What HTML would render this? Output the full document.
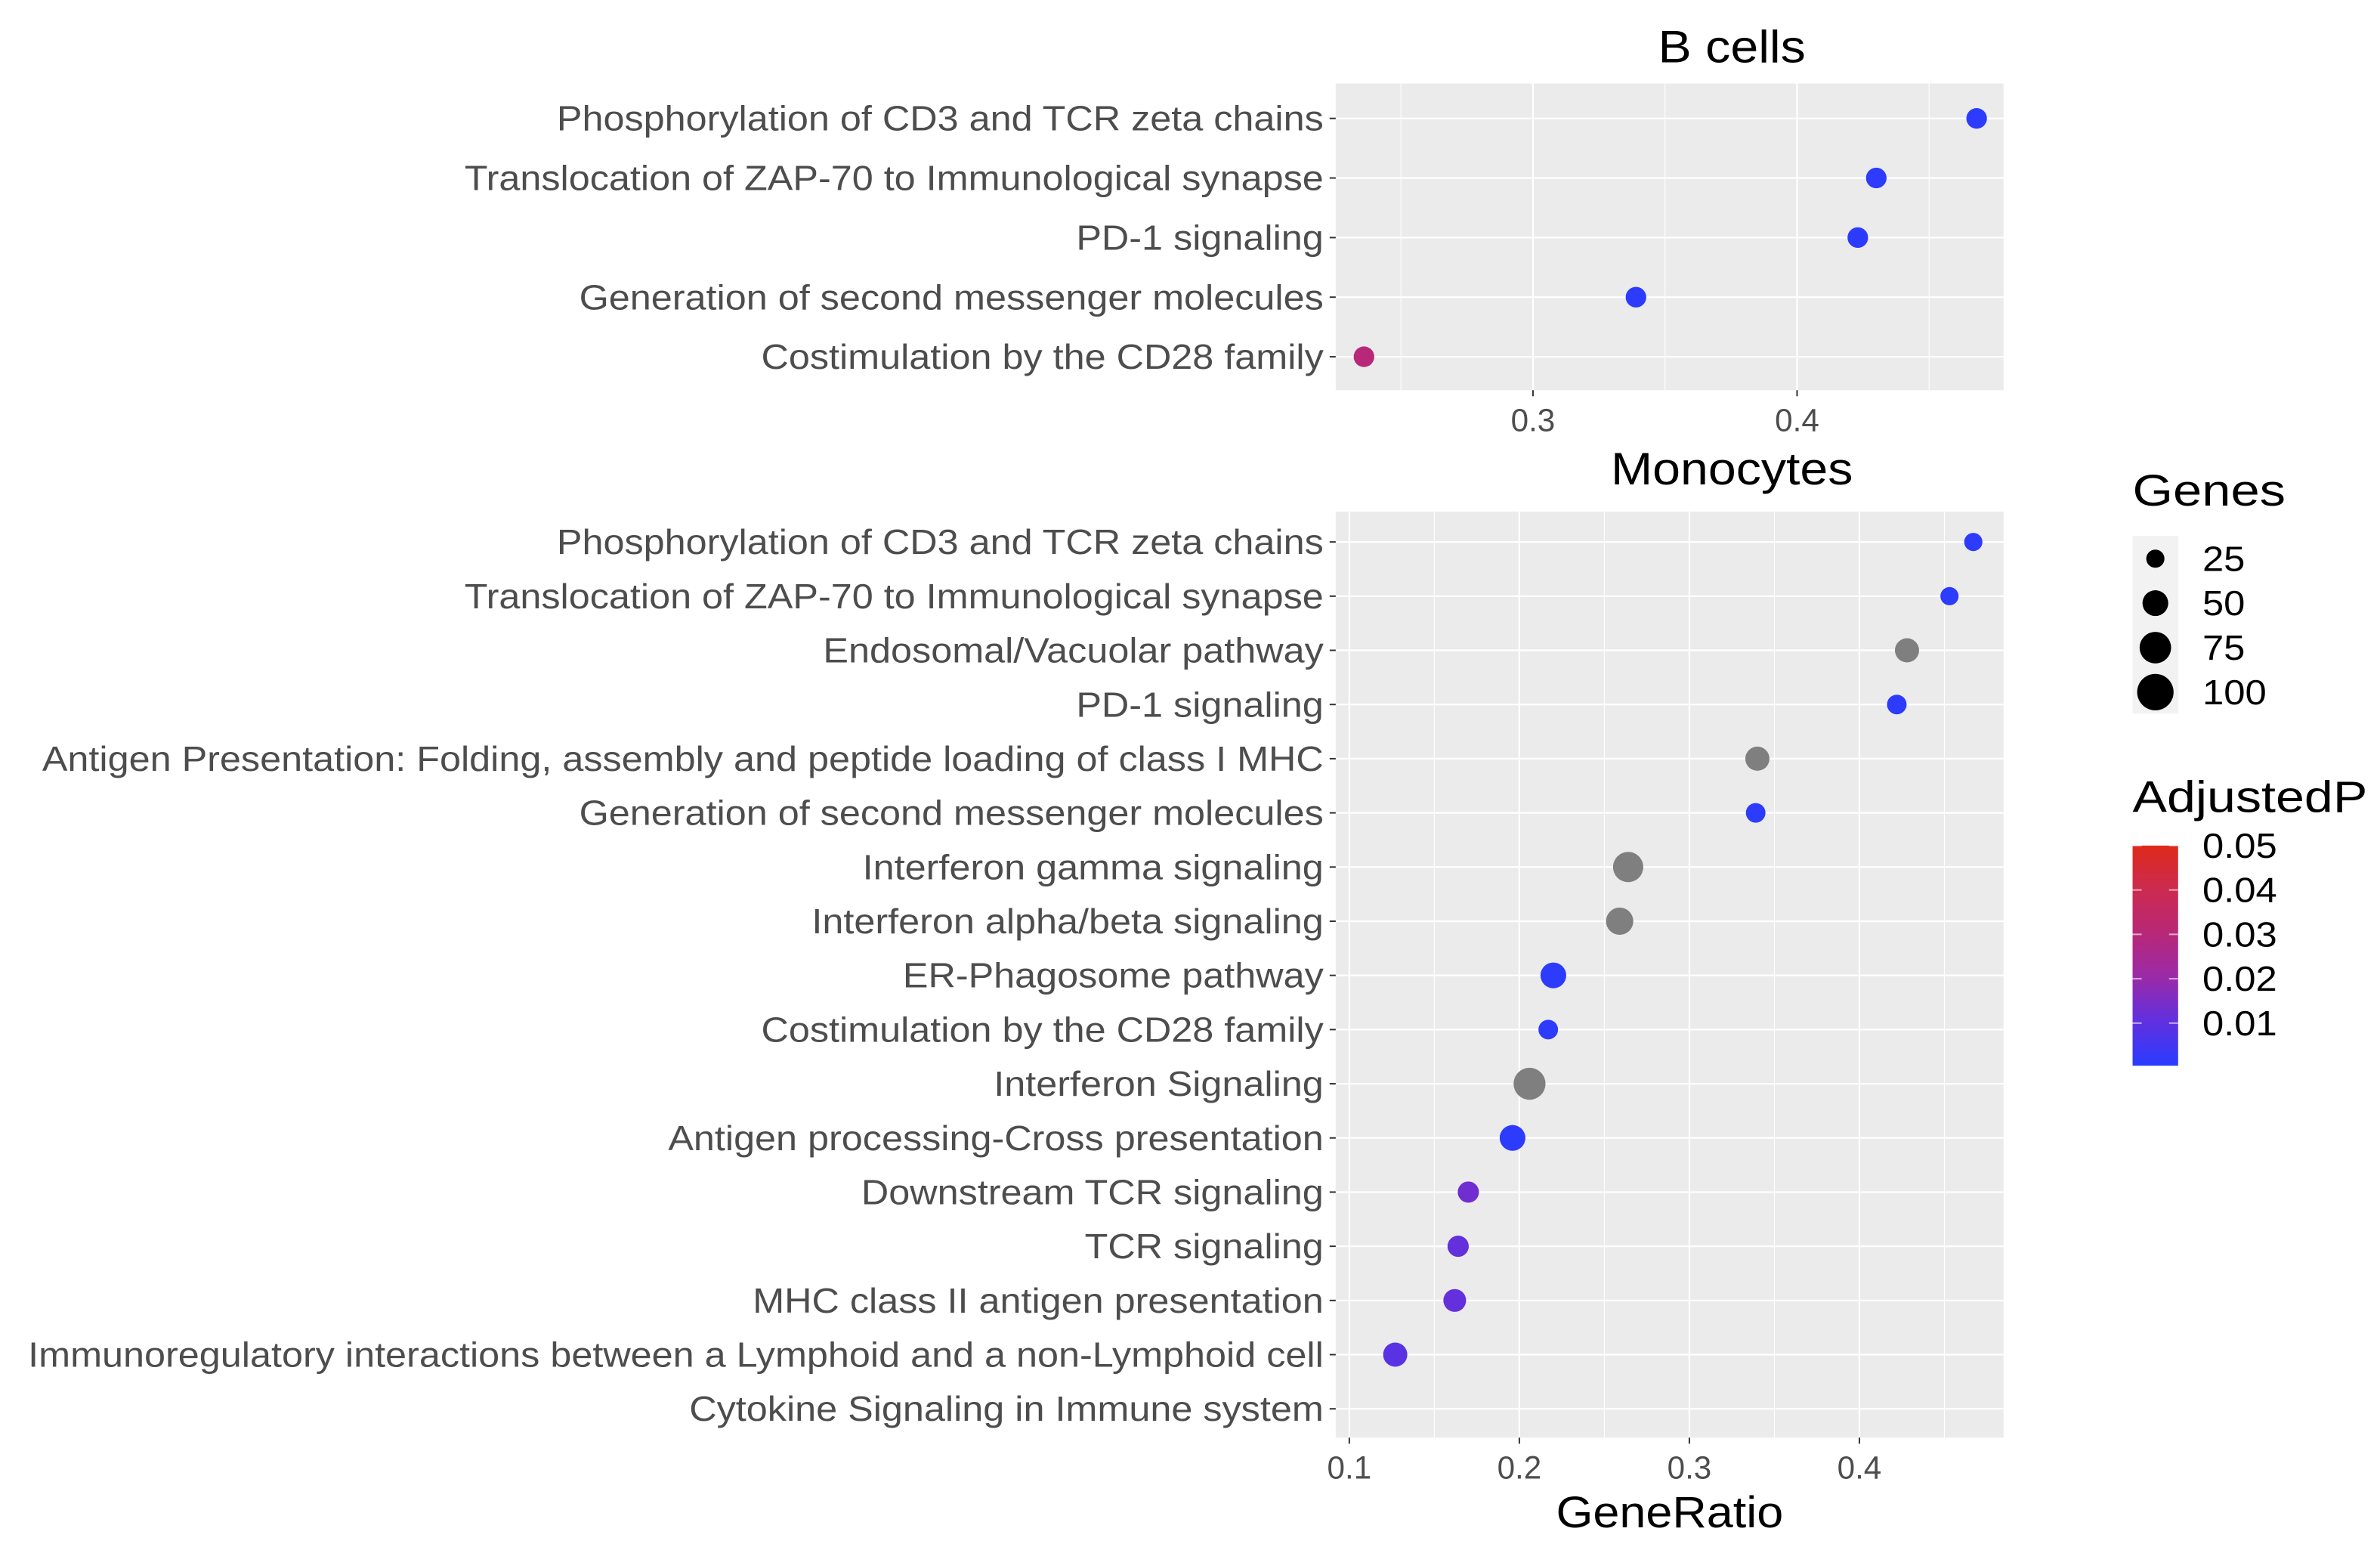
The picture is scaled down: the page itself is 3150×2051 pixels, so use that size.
<!DOCTYPE html>
<html><head><meta charset="utf-8"><style>
html,body{margin:0;padding:0;background:#fff;}
svg{display:block;font-family:"Liberation Sans",sans-serif;}
</style></head><body>
<svg id="chart" width="3150" height="2051" viewBox="0 0 1568 1021" preserveAspectRatio="none" xmlns="http://www.w3.org/2000/svg">
<defs>
<linearGradient id="pgrad" x1="0" y1="1" x2="0" y2="0">
<stop offset="0" stop-color="#2a3cff"/>
<stop offset="0.2" stop-color="#6030e0"/>
<stop offset="0.4" stop-color="#9a2aa8"/>
<stop offset="0.6" stop-color="#b82878"/>
<stop offset="0.8" stop-color="#cc2a50"/>
<stop offset="1" stop-color="#de2a1a"/>
</linearGradient>
</defs>
<g id="root"></g>
</svg>
<script>
const topCategories = ["Phosphorylation of CD3 and TCR zeta chains","Translocation of ZAP-70 to Immunological synapse","PD-1 signaling","Generation of second messenger molecules","Costimulation by the CD28 family"];
const topRatio = [0.468,0.430,0.423,0.339,0.236];
const topGenes = [32,32,32,32,32];
const topP = [0.001,0.001,0.001,0.001,0.03];
const topTicks = [0.3,0.4];

const botCategories = ["Phosphorylation of CD3 and TCR zeta chains","Translocation of ZAP-70 to Immunological synapse","Endosomal/Vacuolar pathway","PD-1 signaling","Antigen Presentation: Folding, assembly and peptide loading of class I MHC","Generation of second messenger molecules","Interferon gamma signaling","Interferon alpha/beta signaling","ER-Phagosome pathway","Costimulation by the CD28 family","Interferon Signaling","Antigen processing-Cross presentation","Downstream TCR signaling","TCR signaling","MHC class II antigen presentation","Immunoregulatory interactions between a Lymphoid and a non-Lymphoid cell","Cytokine Signaling in Immune system"];
const botRatio = [0.467,0.453,0.428,0.422,0.340,0.339,0.264,0.259,0.220,0.217,0.206,0.196,0.170,0.164,0.162,0.127,null];
const botGenes = [25,25,44,29,44,29,69,56,50,29,77,50,34,34,39,44,null];
const botP = [0.001,0.001,null,0.001,null,0.001,null,null,0.001,0.001,null,0.001,0.013,0.011,0.011,0.009,null];
const botTicks = [0.1,0.2,0.3,0.4];

const legendGenes = [25,50,75,100];
const legendP = [0.05,0.04,0.03,0.02,0.01];

const NS="http://www.w3.org/2000/svg";
const root=document.getElementById('root');
function mk(tag,attrs,parent,text){const e=document.createElementNS(NS,tag);for(const k in attrs)e.setAttribute(k,attrs[k]);if(text!==undefined)e.textContent=text;(parent||root).appendChild(e);return e;}
function widen(t,f){const w=t.getComputedTextLength();t.setAttribute('textLength',(w*f).toFixed(1));t.setAttribute('lengthAdjust','spacingAndGlyphs');}
function rOf(g){return 1.2*Math.sqrt(g);}
const stops=[[0,[42,60,255]],[0.2,[96,48,224]],[0.4,[154,42,168]],[0.6,[184,40,120]],[0.8,[204,42,80]],[1,[222,42,26]]];
function colOf(p){if(p===null)return "#7f7f7f";let t=Math.max(0,Math.min(1,(p-0.0004)/(0.05-0.0004)));for(let i=1;i<stops.length;i++){if(t<=stops[i][0]){const a=stops[i-1],b=stops[i];const f=(t-a[0])/(b[0]-a[0]);const c=a[1].map((v,j)=>Math.round(v+(b[1][j]-v)*f));return `rgb(${c[0]},${c[1]},${c[2]})`;}}return "#de2a1a";}

function panel(opt){
  const {x0,x1,y0,y1,dmin,dmax,cats,ratio,genes,pv,ticks,minor,rowTop,rowBot,title,titleY,name}=opt;
  const g=mk('g',{});
  
  
  const xs=v=>x0+(v-dmin)/(dmax-dmin)*(x1-x0);
  const n=cats.length;
  const ys=i=>rowTop+i*(rowBot-rowTop)/(n-1);
  const bg=mk('rect',{x:x0,y:y0,width:x1-x0,height:y1-y0,fill:'#ebebeb'},g);
  
  
  minor.forEach(v=>mk('line',{x1:xs(v),x2:xs(v),y1:y0,y2:y1,stroke:'#fff','stroke-width':0.55},g));
  ticks.forEach(v=>mk('line',{x1:xs(v),x2:xs(v),y1:y0,y2:y1,stroke:'#fff','stroke-width':1.1},g));
  cats.forEach((c,i)=>{
    mk('line',{x1:x0,x2:x1,y1:ys(i),y2:ys(i),stroke:'#fff','stroke-width':1.1},g);
    mk('line',{x1:x0-4,x2:x0,y1:ys(i),y2:ys(i),stroke:'#333','stroke-width':1},g);
    const t=mk('text',{x:x0-8,y:ys(i)+8,'text-anchor':'end','font-size':23,fill:'#4d4d4d'},g,c);
    
    
    widen(t,1.09);
  });
  ticks.forEach(v=>{
    mk('line',{x1:xs(v),x2:xs(v),y1:y1,y2:y1+4,stroke:'#333','stroke-width':1},g);
    const t=mk('text',{x:xs(v),y:y1+27,'text-anchor':'middle','font-size':21,fill:'#4d4d4d'},g,v.toFixed(1));
    
    
  });
  ratio.forEach((v,i)=>{
    if(v===null)return;
    const c=mk('circle',{cx:xs(v),cy:ys(i),r:rOf(genes[i]),fill:colOf(pv[i])},g);
    
    
  });
  const tt=mk('text',{x:1141,y:titleY,'text-anchor':'middle','font-size':30,fill:'#000'},g,title);
  
  
  widen(tt,1.1);
}
panel({x0:880,x1:1320,y0:55,y1:257,dmin:0.2253,dmax:0.4782,cats:topCategories,ratio:topRatio,genes:topGenes,pv:topP,ticks:topTicks,minor:[0.25,0.35,0.45],rowTop:78,rowBot:235,title:"B cells",titleY:41,name:'b-cells-panel'});
panel({x0:880,x1:1320,y0:337,y1:947,dmin:0.092,dmax:0.4848,cats:botCategories,ratio:botRatio,genes:botGenes,pv:botP,ticks:botTicks,minor:[0.15,0.25,0.35,0.45],rowTop:357,rowBot:928,title:"Monocytes",titleY:319,name:'monocytes-panel'});

const xt=mk('text',{x:1100,y:1006,'text-anchor':'middle','font-size':29,fill:'#000'},root,"GeneRatio");


widen(xt,1.08);

// Genes legend
const lg=mk('g',{});


const gt=mk('text',{x:1405,y:333,'font-size':29,fill:'#000'},lg,"Genes");
widen(gt,1.18);
mk('rect',{x:1405,y:353,width:30,height:117,fill:'#f2f2f2'},lg);
legendGenes.forEach((gv,i)=>{
  const y=368+i*29.3;
  const c=mk('circle',{cx:1420,cy:y,r:rOf(gv),fill:'#000'},lg);
  
  
  const t=mk('text',{x:1451,y:y+8,'font-size':23,fill:'#000'},lg,String(gv));
  widen(t,1.1);
});
// AdjustedP legend
const cg=mk('g',{});


const at=mk('text',{x:1405,y:535,'font-size':29,fill:'#000'},cg,"AdjustedP");
widen(at,1.17);
mk('rect',{x:1405,y:557,width:30,height:145,fill:'url(#pgrad)'},cg);
legendP.forEach(p=>{
  const y=702-(p-0.0004)/(0.05-0.0004)*145;
  mk('line',{x1:1405,x2:1411,y1:y,y2:y,stroke:'#fff','stroke-opacity':0.6},cg);
  mk('line',{x1:1429,x2:1435,y1:y,y2:y,stroke:'#fff','stroke-opacity':0.6},cg);
  const t=mk('text',{x:1451,y:y+8,'font-size':23,fill:'#000'},cg,p.toFixed(2));
  widen(t,1.1);
});
</script>
</body></html>
